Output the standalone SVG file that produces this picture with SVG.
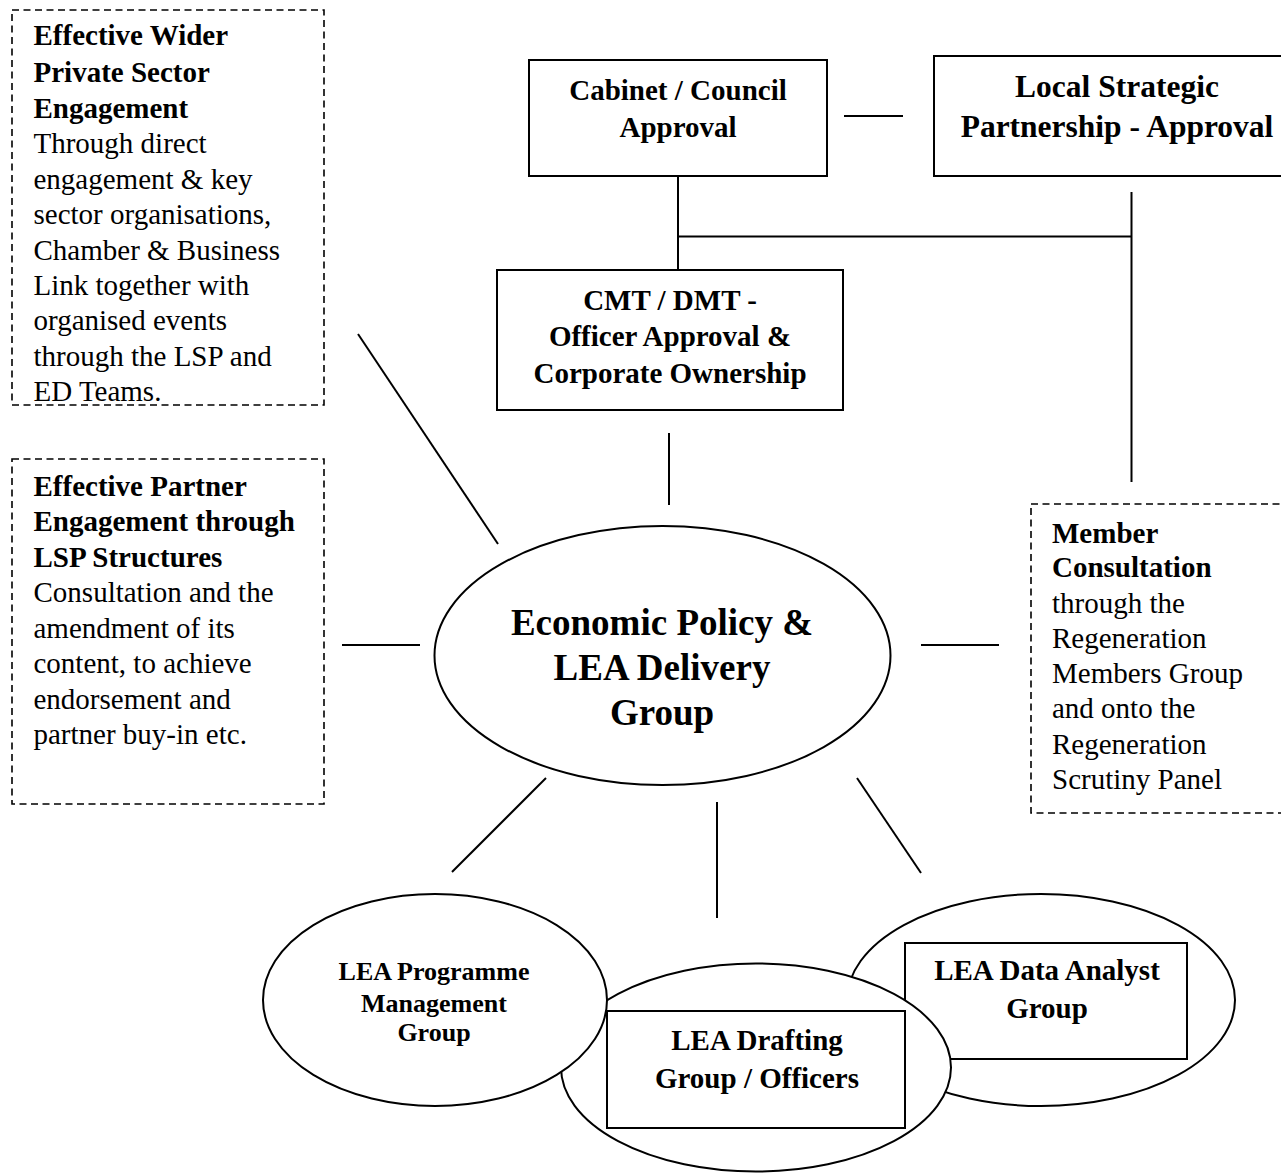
<svg xmlns="http://www.w3.org/2000/svg" width="1281" height="1173" viewBox="0 0 1281 1173">
<style>
.box{fill:#fff;stroke:#000;stroke-width:2}
.dash{fill:none;stroke:#000;stroke-width:1.6;stroke-dasharray:7 4.5}
.ln{stroke:#000;stroke-width:2;fill:none}
text{font-family:"Liberation Serif","Times New Roman",serif;fill:#000}
.b{font-weight:bold}
.c{text-anchor:middle}
.s29{font-size:29px}
</style>
<rect width="1281" height="1173" fill="#fff"/>
<g id="connectors">
<line class="ln" x1="844" y1="116" x2="903" y2="116"/>
<line class="ln" x1="678" y1="176" x2="678" y2="270"/>
<line class="ln" x1="678" y1="236.5" x2="1131.5" y2="236.5"/>
<line class="ln" x1="1131.5" y1="192" x2="1131.5" y2="482"/>
<line class="ln" x1="669" y1="433" x2="669" y2="505"/>
<line class="ln" x1="358" y1="334" x2="498" y2="544"/>
<line class="ln" x1="342" y1="645" x2="420" y2="645"/>
<line class="ln" x1="921" y1="645" x2="999" y2="645"/>
<line class="ln" x1="546" y1="778" x2="452" y2="872"/>
<line class="ln" x1="717" y1="802" x2="717" y2="918"/>
<line class="ln" x1="857" y1="778" x2="921" y2="873"/>
</g>
<g id="private-sector">
<rect class="dash" x="12" y="10" width="312" height="395"/>
<text class="s29" x="33.5">
<tspan class="b" x="33.5" y="45">Effective Wider</tspan>
<tspan class="b" x="33.5" y="81.5">Private Sector</tspan>
<tspan class="b" x="33.5" y="117.5">Engagement</tspan>
<tspan x="33.5" y="153">Through direct</tspan>
<tspan x="33.5" y="188.5">engagement &amp; key</tspan>
<tspan x="33.5" y="224">sector organisations,</tspan>
<tspan x="33.5" y="259.5">Chamber &amp; Business</tspan>
<tspan x="33.5" y="295">Link together with</tspan>
<tspan x="33.5" y="330">organised events</tspan>
<tspan x="33.5" y="365.5">through the LSP and</tspan>
<tspan x="33.5" y="400.5">ED Teams.</tspan>
</text>
</g>
<g id="partner-engagement">
<rect class="dash" x="12" y="459" width="312" height="345"/>
<text class="s29" x="33.5">
<tspan class="b" x="33.5" y="496">Effective Partner</tspan>
<tspan class="b" x="33.5" y="531">Engagement through</tspan>
<tspan class="b" x="33.5" y="566.5">LSP Structures</tspan>
<tspan x="33.5" y="602">Consultation and the</tspan>
<tspan x="33.5" y="637.5">amendment of its</tspan>
<tspan x="33.5" y="673">content, to achieve</tspan>
<tspan x="33.5" y="708.5">endorsement and</tspan>
<tspan x="33.5" y="744">partner buy-in etc.</tspan>
</text>
</g>
<g id="member-consultation">
<rect class="dash" x="1031" y="504" width="260" height="309"/>
<text class="s29" x="1052">
<tspan class="b" x="1052" y="543">Member</tspan>
<tspan class="b" x="1052" y="577">Consultation</tspan>
<tspan x="1052" y="612.5">through the</tspan>
<tspan x="1052" y="647.5">Regeneration</tspan>
<tspan x="1052" y="683">Members Group</tspan>
<tspan x="1052" y="718">and onto the</tspan>
<tspan x="1052" y="753.5">Regeneration</tspan>
<tspan x="1052" y="788.5">Scrutiny Panel</tspan>
</text>
</g>
<g id="cabinet">
<rect class="box" x="529" y="60" width="298" height="116"/>
<text class="b c s29" x="678" y="100">Cabinet / Council</text>
<text class="b c s29" x="678" y="137">Approval</text>
</g>
<g id="lsp">
<rect class="box" x="934" y="56" width="360" height="120"/>
<text class="b c" style="font-size:31.5px" x="1117" y="97">Local Strategic</text>
<text class="b c" style="font-size:31.5px" x="1117" y="137">Partnership - Approval</text>
</g>
<g id="cmt">
<rect class="box" x="497" y="270" width="346" height="140"/>
<text class="b c s29" x="670" y="310">CMT / DMT -</text>
<text class="b c s29" x="670" y="345.5">Officer Approval &amp;</text>
<text class="b c s29" x="670" y="383">Corporate Ownership</text>
</g>
<g id="economic-policy">
<ellipse class="box" cx="662.5" cy="655.5" rx="228" ry="129.5"/>
<text class="b c" style="font-size:37px" x="662" y="635">Economic Policy &amp;</text>
<text class="b c" style="font-size:37px" x="662" y="680">LEA Delivery</text>
<text class="b c" style="font-size:37px" x="662" y="724.5">Group</text>
</g>
<g id="data-analyst">
<ellipse class="box" cx="1041" cy="1000" rx="194" ry="106"/>
<rect class="box" x="905" y="943" width="282" height="116"/>
<text class="b c s29" x="1047" y="980">LEA Data Analyst</text>
<text class="b c s29" x="1047" y="1018">Group</text>
</g>
<g id="drafting">
<ellipse class="box" cx="756" cy="1067.5" rx="195" ry="104"/>
</g>
<g id="programme-management">
<ellipse class="box" cx="435" cy="1000" rx="172" ry="106"/>
<text class="b c" style="font-size:26px" x="434" y="980">LEA Programme</text>
<text class="b c" style="font-size:26px" x="434" y="1011.5">Management</text>
<text class="b c" style="font-size:26px" x="434" y="1041">Group</text>
</g>
<g id="drafting-label">
<rect class="box" x="607" y="1011" width="298" height="117"/>
<text class="b c s29" x="757" y="1050">LEA Drafting</text>
<text class="b c s29" x="757" y="1088">Group / Officers</text>
</g>
</svg>
